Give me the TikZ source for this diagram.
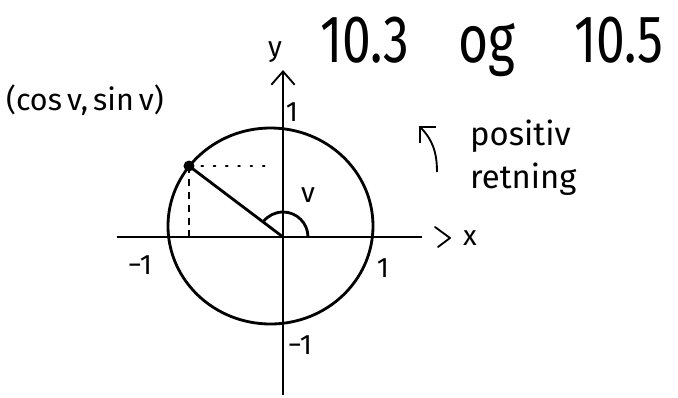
\documentclass[tikz,border=0pt]{standalone}
\usepackage{fontspec}
\setmainfont{Fira Sans}
\usetikzlibrary{arrows.meta,positioning,calc}

\tikzset{
  axis/.style={line width=1.6pt},
  curve/.style={line width=2.4pt},
  lbl/.style={font=\fontsize{24}{26}\selectfont, inner sep=0pt},
  note/.style={font=\fontsize{28}{30}\selectfont, inner sep=0pt, anchor=base west},
  barb/.style={-{Straight Barb[length=4mm,width=7mm,line width=1.6pt]}},
}

\begin{document}
\begin{tikzpicture}[x=3cm,y=3cm]
  \useasboundingbox (-2.83,-1.60) rectangle (3.95,2.37);
  % axes
  \coordinate (O) at (0,0);
  \coordinate (xl) at (-1.66,0);
  \coordinate (xr) at (1.39,0);
  \coordinate (yb) at (0,-1.58);
  \coordinate (yt) at (0,1.67);
  \draw[axis] (xl) -- (xr);
  \draw[axis,barb] (yb) -- (yt);
  \draw[axis,line cap=round,line join=round] (1.52,0.10) -- (1.67,-0.01) -- (1.55,-0.10);
  \node[lbl] (xlab) at (1.87,-0.01) {x};
  \node[lbl] (ylab) at (-0.08,1.85) {y};
  % unit circle
  \draw[curve] (-0.125,0.11) ellipse [x radius=1.025, y radius=0.98];
  % point on the circle
  \coordinate (P) at (-0.94,0.71);
  \coordinate (Py) at (-0.15,0.71);
  \draw[curve] (O) -- (P);
  \draw[axis,dash pattern=on 1.5pt off 9pt,line cap=round] (P) -- (Py);
  \draw[axis,dash pattern=on 6pt off 5pt] (P) -- (P |- O);
  \fill (P) circle [radius=0.055];
  \node[lbl,font=\fontsize{26}{28}\selectfont] (Plab) at (-1.98,1.37) {(cos\,v,\,sin\,v)};
  % angle
  \draw[curve] (0.25,0) arc [start angle=0, end angle=143, radius=0.25];
  \node[lbl] (vlab) at (0.25,0.42) {v};
  % ticks
  \node[lbl] (t1) at (0.09,1.25) {1};
  \node[lbl] (t2) at (1.00,-0.31) {1};
  \node[lbl] (t3) at (-1.43,-0.28) {−1};
  \node[lbl] (t4) at (0.17,-1.08) {−1};
  % direction
  \coordinate (ra) at (1.54,0.65);
  \coordinate (rb) at (1.36,1.11);
  \draw[axis,-{Straight Barb[length=3.5mm,width=7mm,line width=1.6pt]}] (ra) to[out=90,in=-45] (rb);
  \node[note] (pos) at (1.87,0.92) {positiv};
  \node[note] (ret) at (1.87,0.49) {retning};
  % title
  \node[note,font=\fontsize{44}{46}\selectfont] (title) at (0.37,1.75)
    {\scalebox{1}[1.3]{10.3\hspace{0.95em}og\hspace{1.15em}10.5}};
\end{tikzpicture}
\end{document}
